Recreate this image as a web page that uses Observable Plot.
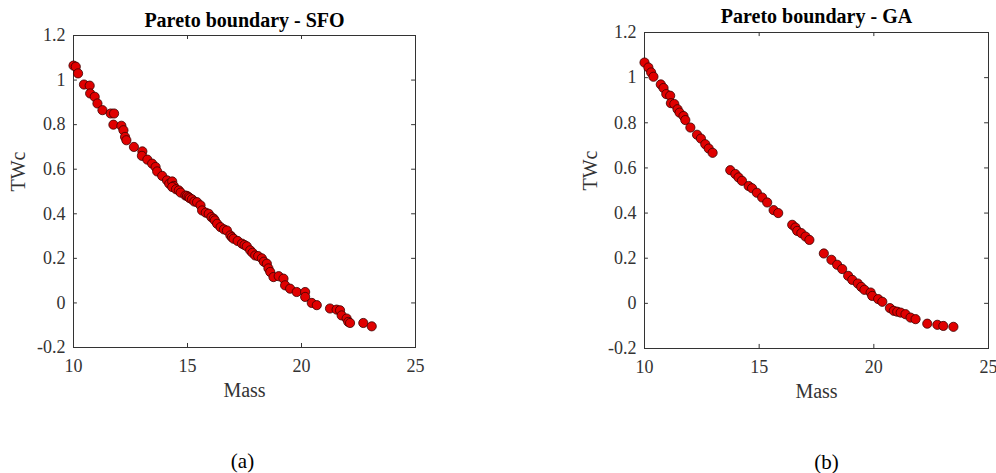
<!DOCTYPE html>
<html>
<head>
<meta charset="utf-8">
<script src="https://cdn.jsdelivr.net/npm/d3@7"></script>
<script src="https://cdn.jsdelivr.net/npm/@observablehq/plot@0.6"></script>
<style>
  html, body { margin: 0; padding: 0; background: #fff; }
  #wrap { position: relative; width: 996px; height: 473px; overflow: hidden; }
  .panel { position: absolute; top: 0; }
  .panel svg, .panel svg text { font-family: 'Liberation Serif', 'Times New Roman', serif !important; }
</style>
</head>
<body>
<div id="wrap"></div>
<script>
// ---- Data ----
const xTicks = [10, 15, 20, 25];
const yTicks = [-0.2, 0, 0.2, 0.4, 0.6, 0.8, 1, 1.2];
const xLabel = "Mass";
const yLabel = "TWc";
const titles = ["Pareto boundary - SFO", "Pareto boundary - GA"];
const tags = ["(a)", "(b)"];

const sfoMass = [10.0, 10.1, 10.2, 10.46, 10.71, 10.73, 10.93, 11.05, 11.27, 11.63, 11.78, 11.75, 12.1, 12.19, 12.26, 12.32,
  12.65, 13.02, 13.0, 13.24, 13.45, 13.6, 13.67, 13.89, 14.1, 14.2, 14.33, 14.4, 14.33, 14.5, 14.62, 14.7, 14.91, 14.98,
  15.05, 15.1, 15.2, 15.3, 15.42, 15.57, 15.64, 15.8, 15.93, 16.05, 16.15, 16.2, 16.3, 16.45, 16.6, 16.73, 16.88, 16.95,
  17.02, 17.2, 17.39, 17.5, 17.6, 17.75, 17.85, 17.97, 18.1, 18.26, 18.35, 18.48, 18.55, 18.63, 18.77, 19.0, 19.21, 19.28,
  19.5, 19.79, 20.16, 20.16, 20.45, 20.67, 21.25, 21.54, 21.69, 21.76, 21.98, 22.05, 22.13, 22.71, 23.08];
const sfoTWc = [1.065, 1.06, 1.03, 0.98, 0.975, 0.94, 0.925, 0.895, 0.865, 0.85, 0.85, 0.80, 0.795, 0.775, 0.745, 0.73,
  0.70, 0.68, 0.66, 0.643, 0.625, 0.61, 0.59, 0.57, 0.55, 0.535, 0.545, 0.525, 0.52, 0.51, 0.505, 0.495, 0.482, 0.48,
  0.475, 0.47, 0.465, 0.455, 0.452, 0.438, 0.415, 0.405, 0.40, 0.385, 0.378, 0.37, 0.355, 0.34, 0.33, 0.325, 0.303, 0.295,
  0.288, 0.278, 0.266, 0.26, 0.254, 0.236, 0.225, 0.213, 0.21, 0.20, 0.185, 0.176, 0.155, 0.139, 0.116, 0.12, 0.109, 0.079,
  0.064, 0.049, 0.049, 0.027, 0.0, -0.01, -0.025, -0.03, -0.033, -0.056, -0.07, -0.085, -0.09, -0.09, -0.105];

const gaMass = [10.0, 10.17, 10.29, 10.39, 10.71, 10.83, 10.95, 11.12, 11.15, 11.3, 11.44, 11.53, 11.7, 11.78, 12.0, 12.29,
  12.46, 12.65, 12.8, 12.97, 13.74, 13.96, 14.1, 14.25, 14.54, 14.69, 14.9, 15.13, 15.35, 15.63, 15.83, 16.44, 16.58,
  16.66, 16.84, 17.02, 17.19, 17.82, 18.15, 18.4, 18.62, 18.88, 19.06, 19.3, 19.45, 19.59, 19.86, 19.93, 20.19, 20.37,
  20.7, 20.87, 21.02, 21.17, 21.38, 21.6, 21.82, 22.33, 22.77, 23.03, 23.47];
const gaTWc = [1.067, 1.045, 1.023, 1.004, 0.97, 0.954, 0.927, 0.92, 0.887, 0.883, 0.86, 0.845, 0.83, 0.812, 0.779, 0.747,
  0.73, 0.705, 0.686, 0.667, 0.59, 0.573, 0.558, 0.543, 0.52, 0.51, 0.49, 0.469, 0.447, 0.413, 0.40, 0.348, 0.336,
  0.321, 0.311, 0.296, 0.281, 0.221, 0.193, 0.171, 0.152, 0.122, 0.104, 0.088, 0.073, 0.06, 0.048, 0.033, 0.019, 0.007,
  -0.021, -0.033, -0.037, -0.041, -0.048, -0.063, -0.07, -0.09, -0.095, -0.1, -0.104];

// ---- Drawing ----
const font = "'Liberation Serif', 'Times New Roman', serif";
const ink = "#333333";
const fmt = d => String(d);

function panel(mass, twc, title, tag, cfg) {
  const data = mass.map((m, i) => ({m, t: twc[i]}));
  const xmin = xTicks[0], xmax = xTicks[xTicks.length - 1];
  const ymin = yTicks[0], ymax = yTicks[yTicks.length - 1];
  const tx = 0.17, ty = 0.018; // inward tick lengths in data units
  return Plot.plot({
    width: cfg.width,
    height: 473,
    marginLeft: cfg.mL, marginRight: cfg.mR, marginTop: cfg.mT, marginBottom: cfg.mB,
    style: {fontFamily: font, fontSize: "18px", color: ink, background: "transparent"},
    x: {domain: [xmin, xmax]},
    y: {domain: [ymin, ymax]},
    marks: [
      Plot.axisX({ticks: xTicks, tickFormat: fmt, tickSize: 0, tickPadding: 12, label: null, fontSize: 18, fontFamily: font, fill: ink}),
      Plot.axisY({ticks: yTicks, tickFormat: fmt, tickSize: 0, tickPadding: 8, label: null, fontSize: 18, fontFamily: font, fill: ink}),
      Plot.ruleX(xTicks, {x: d => d, y1: ymin, y2: ymin + ty, stroke: ink}),
      Plot.ruleX(xTicks, {x: d => d, y1: ymax - ty, y2: ymax, stroke: ink}),
      Plot.ruleY(yTicks, {y: d => d, x1: xmin, x2: xmin + tx, stroke: ink}),
      Plot.ruleY(yTicks, {y: d => d, x1: xmax - tx, x2: xmax, stroke: ink}),
      Plot.frame({stroke: ink, strokeWidth: 1}),
      Plot.dot(data, {x: "m", y: "t", r: 4.6, fill: "#e00000", stroke: "#3a0000", strokeWidth: 0.8}),
      Plot.text([title], {text: d => d, frameAnchor: "top", dy: cfg.titleDy, fontSize: 20, fontWeight: "bold", fontFamily: font, fill: "#000", lineAnchor: "middle"}),
      Plot.text([xLabel], {text: d => d, frameAnchor: "bottom", dy: 43, fontSize: 20, fontFamily: font, fill: ink, lineAnchor: "middle"}),
      Plot.text([yLabel], {text: d => d, frameAnchor: "left", dx: cfg.yLabDx, rotate: -90, fontSize: 20, fontFamily: font, fill: ink, lineAnchor: "middle"}),
      Plot.text([tag], {text: d => d, frameAnchor: "bottom", dy: 114, dx: cfg.tagDx, fontSize: 21, fontFamily: font, fill: "#000", lineAnchor: "middle"})
    ]
  });
}

const wrap = document.getElementById("wrap");
const cfgs = [
  {left: 0, width: 498, mL: 73, mR: 83, mT: 35, mB: 126, titleDy: -15, yLabDx: -55, tagDx: -2},
  {left: 498, width: 498, mL: 146, mR: 8, mT: 32, mB: 125, titleDy: -16, yLabDx: -54, tagDx: 10}
];
const series = [[sfoMass, sfoTWc], [gaMass, gaTWc]];
cfgs.forEach((cfg, i) => {
  const div = document.createElement("div");
  div.className = "panel";
  div.style.left = cfg.left + "px";
  div.appendChild(panel(series[i][0], series[i][1], titles[i], tags[i], cfg));
  wrap.appendChild(div);
});
</script>
</body>
</html>
